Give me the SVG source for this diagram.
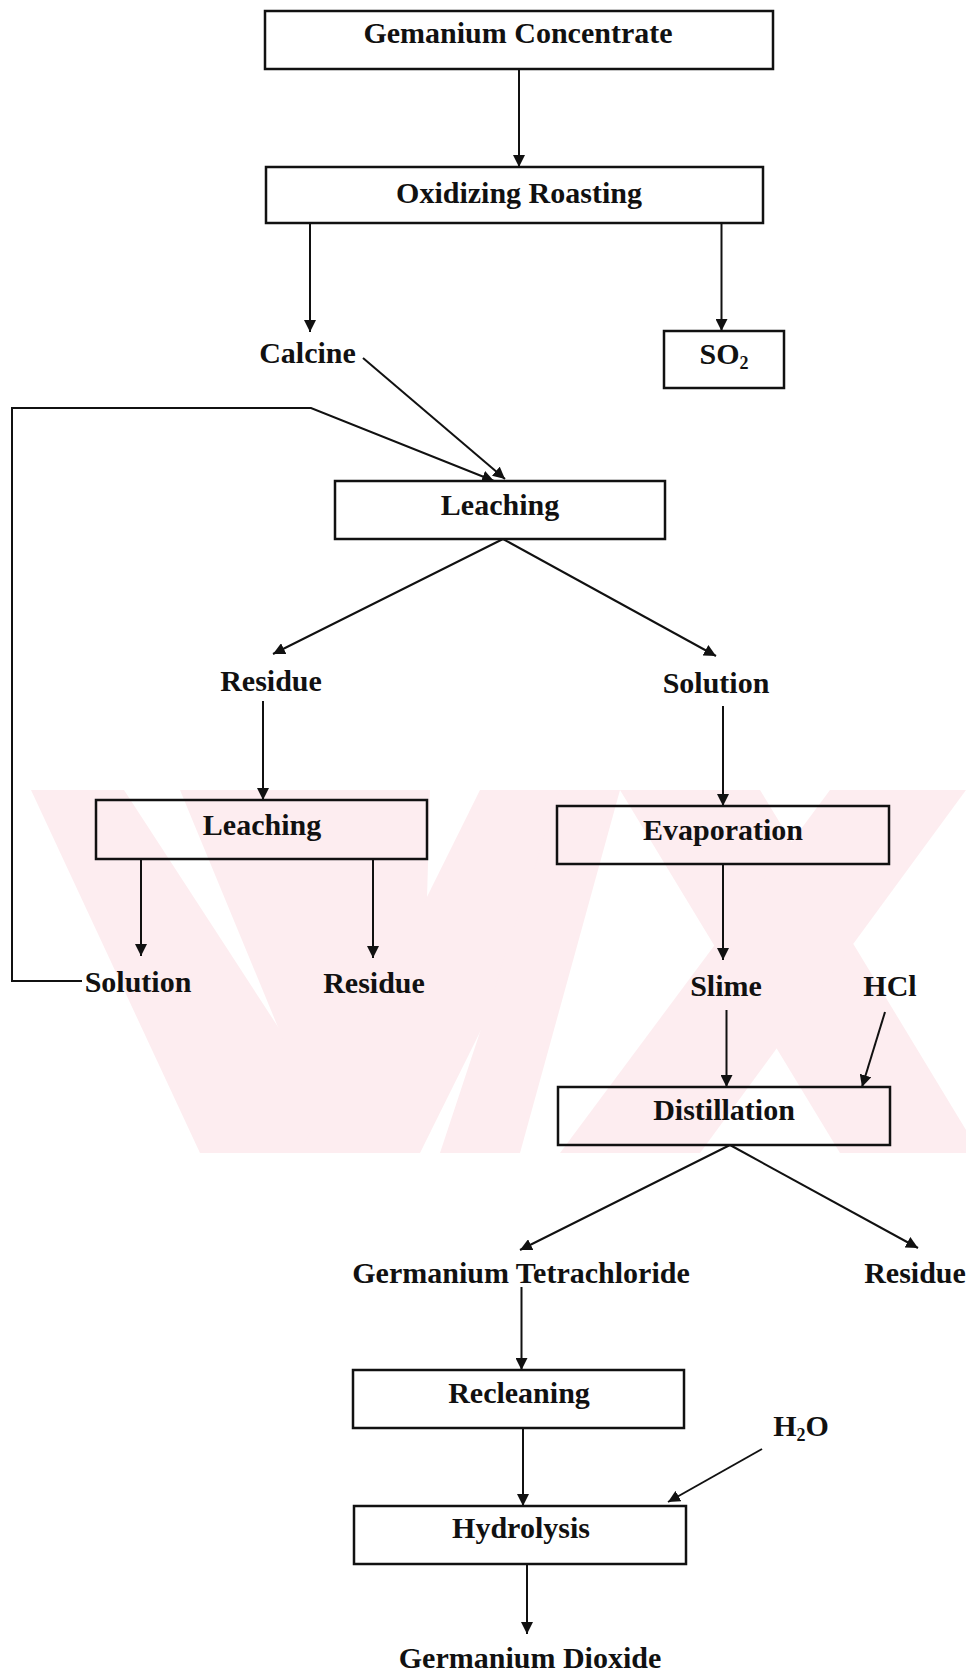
<svg xmlns="http://www.w3.org/2000/svg" width="971" height="1674" viewBox="0 0 971 1674">
  <style>
    .box { fill: none; stroke: #111; stroke-width: 2.5; }
    .lbl { font-family: "Liberation Serif", "Times New Roman", serif; font-weight: bold; font-size: 30px; fill: #111; text-anchor: middle; }
    .sub { font-size: 18px; }
    .edge { fill: none; stroke: #111; stroke-width: 2; marker-end: url(#arrow); }
    .wm { fill: #fdedf0; }
  </style>
  <defs>
    <marker id="arrow" markerUnits="userSpaceOnUse" viewBox="0 0 12 12" refX="12" refY="6" markerWidth="12" markerHeight="12" orient="auto">
      <path d="M0,0 L12,6 L0,12 z" fill="#111"/>
    </marker>
    <clipPath id="wmClip">
      <rect x="31" y="790" width="935" height="363"/>
    </clipPath>
  </defs>

  <rect width="971" height="1674" fill="#fff"/>

  <!-- background mark: pale diagonal bands -->
  <g id="watermark" clip-path="url(#wmClip)">
    <polygon class="wm" points="31,790 124,790 360,1153 200,1153"/>
    <polygon class="wm" points="180,790 430,790 420,1153 330,1153"/>
    <polygon class="wm" points="480,790 600,790 420,1153 300,1153"/>
    <polygon class="wm" points="560,790 620,790 520,1153 440,1153"/>
    <polygon class="wm" points="620,790 760,790 980,1153 840,1153"/>
    <polygon class="wm" points="830,790 966,790 700,1153 560,1153"/>
  </g>

  <!-- connectors -->
  <g id="connectors">
    <line class="edge" x1="519" y1="69" x2="519" y2="167"/>
    <line class="edge" x1="310" y1="223" x2="310" y2="332"/>
    <line class="edge" x1="721.5" y1="223" x2="721.5" y2="331"/>
    <line class="edge" x1="363" y1="358" x2="505" y2="479"/>
    <polyline class="edge" points="82,981 12,981 12,408 311,408 494,481"/>
    <line class="edge" x1="503" y1="539" x2="273" y2="654"/>
    <line class="edge" x1="503" y1="539" x2="716" y2="656"/>
    <line class="edge" x1="263" y1="701" x2="263" y2="800"/>
    <line class="edge" x1="723" y1="706" x2="723" y2="806"/>
    <line class="edge" x1="141" y1="859" x2="141" y2="956"/>
    <line class="edge" x1="373" y1="859" x2="373" y2="958"/>
    <line class="edge" x1="723" y1="864" x2="723" y2="960"/>
    <line class="edge" x1="726.5" y1="1010" x2="726.5" y2="1087"/>
    <line class="edge" x1="885" y1="1012" x2="862" y2="1087"/>
    <line class="edge" x1="730" y1="1145" x2="520" y2="1250"/>
    <line class="edge" x1="730" y1="1145" x2="918" y2="1248"/>
    <line class="edge" x1="521.5" y1="1287" x2="521.5" y2="1370"/>
    <line class="edge" x1="523" y1="1428" x2="523" y2="1506"/>
    <line class="edge" x1="762" y1="1449" x2="668" y2="1502"/>
    <line class="edge" x1="527" y1="1564" x2="527" y2="1634"/>
  </g>

  <!-- process steps (boxed) and streams (labels) -->
  <g id="n-concentrate">
    <rect class="box" x="265" y="11" width="508" height="58"/>
    <text class="lbl" x="518" y="43">Gemanium Concentrate</text>
  </g>
  <g id="n-roasting">
    <rect class="box" x="266" y="167" width="497" height="56"/>
    <text class="lbl" x="519" y="203">Oxidizing Roasting</text>
  </g>
  <g id="n-so2">
    <rect class="box" x="664" y="331" width="120" height="57"/>
    <text class="lbl" x="724" y="364">SO<tspan class="sub" dy="5">2</tspan></text>
  </g>
  <g id="n-calcine">
    <text class="lbl" x="307.5" y="363">Calcine</text>
  </g>
  <g id="n-leach1">
    <rect class="box" x="335" y="481" width="330" height="58"/>
    <text class="lbl" x="500" y="515">Leaching</text>
  </g>
  <g id="n-residue1">
    <text class="lbl" x="271" y="691">Residue</text>
  </g>
  <g id="n-solution1">
    <text class="lbl" x="716" y="693">Solution</text>
  </g>
  <g id="n-leach2">
    <rect class="box" x="96" y="800" width="331" height="59"/>
    <text class="lbl" x="262" y="835">Leaching</text>
  </g>
  <g id="n-evaporation">
    <rect class="box" x="557" y="806" width="332" height="58"/>
    <text class="lbl" x="723" y="840">Evaporation</text>
  </g>
  <g id="n-solution2">
    <text class="lbl" x="138" y="992">Solution</text>
  </g>
  <g id="n-residue2">
    <text class="lbl" x="374" y="993">Residue</text>
  </g>
  <g id="n-slime">
    <text class="lbl" x="726" y="996">Slime</text>
  </g>
  <g id="n-hcl">
    <text class="lbl" x="890" y="996">HCl</text>
  </g>
  <g id="n-distillation">
    <rect class="box" x="558" y="1087" width="332" height="58"/>
    <text class="lbl" x="724" y="1120">Distillation</text>
  </g>
  <g id="n-tetrachloride">
    <text class="lbl" x="521" y="1283">Germanium Tetrachloride</text>
  </g>
  <g id="n-residue3">
    <text class="lbl" x="915" y="1283">Residue</text>
  </g>
  <g id="n-recleaning">
    <rect class="box" x="353" y="1370" width="331" height="58"/>
    <text class="lbl" x="519" y="1403">Recleaning</text>
  </g>
  <g id="n-h2o">
    <text class="lbl" x="801" y="1436">H<tspan class="sub" dy="5">2</tspan><tspan dy="-5">O</tspan></text>
  </g>
  <g id="n-hydrolysis">
    <rect class="box" x="354" y="1506" width="332" height="58"/>
    <text class="lbl" x="521" y="1538">Hydrolysis</text>
  </g>
  <g id="n-dioxide">
    <text class="lbl" x="530" y="1668">Germanium Dioxide</text>
  </g>
</svg>
